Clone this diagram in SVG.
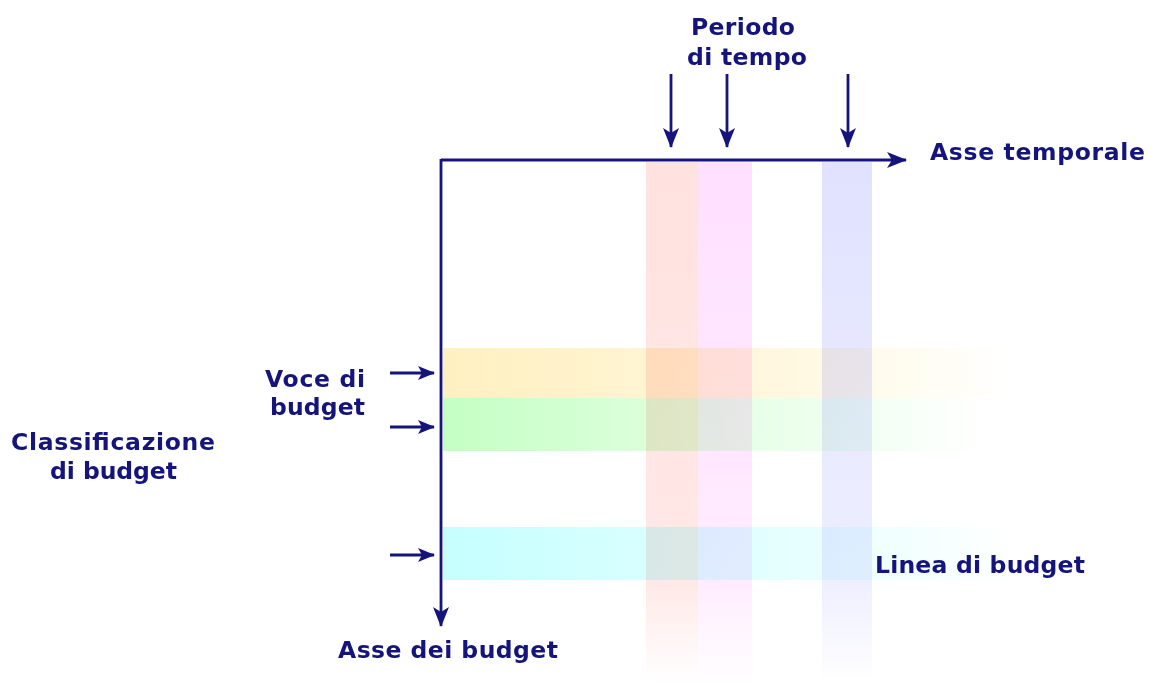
<svg xmlns="http://www.w3.org/2000/svg" width="1149" height="683" viewBox="0 0 1149 683">
<style>
.t{font-family:"DejaVu Sans","Liberation Sans",sans-serif;font-weight:bold;font-size:23.5px;fill:#14147c}
.ax{stroke:#14147c;stroke-width:2.8;fill:none}
.bl{mix-blend-mode:multiply}
</style>
<defs>
<marker id="ah" viewBox="0 0 20 16" refX="19" refY="8" markerWidth="20" markerHeight="16" orient="auto" markerUnits="userSpaceOnUse">
<path d="M0,0 L20,8 L0,16 L5,8 z" fill="#14147c"/>
</marker>
<marker id="ahs" viewBox="0 0 17 14" refX="16" refY="7" markerWidth="17" markerHeight="14" orient="auto" markerUnits="userSpaceOnUse">
<path d="M0,0 L17,7 L0,14 L4,7 z" fill="#14147c"/>
</marker>
<linearGradient id="gy" x1="0" x2="1" y1="0" y2="0"><stop offset="0" stop-color="#fff0c0"/><stop offset="0.55" stop-color="#fff7dc"/><stop offset="1" stop-color="#ffffff"/></linearGradient>
<linearGradient id="gg" x1="0" x2="1" y1="0" y2="0"><stop offset="0" stop-color="#c4ffc4"/><stop offset="0.55" stop-color="#e6ffe6"/><stop offset="1" stop-color="#ffffff"/></linearGradient>
<linearGradient id="gc" x1="0" x2="1" y1="0" y2="0"><stop offset="0" stop-color="#c6ffff"/><stop offset="0.55" stop-color="#e2ffff"/><stop offset="1" stop-color="#ffffff"/></linearGradient>
<linearGradient id="cp" x1="0" x2="0" y1="0" y2="1"><stop offset="0" stop-color="#ffe2e0"/><stop offset="0.8" stop-color="#ffe8e6"/><stop offset="1" stop-color="#ffffff"/></linearGradient>
<linearGradient id="cm" x1="0" x2="0" y1="0" y2="1"><stop offset="0" stop-color="#ffe0ff"/><stop offset="0.8" stop-color="#ffecff"/><stop offset="1" stop-color="#ffffff"/></linearGradient>
<linearGradient id="cb" x1="0" x2="0" y1="0" y2="1"><stop offset="0" stop-color="#e0e2ff"/><stop offset="0.8" stop-color="#eeeeff"/><stop offset="1" stop-color="#ffffff"/></linearGradient>
</defs>
<rect width="1149" height="683" fill="#ffffff"/>
<g id="bands">
<rect id="voce1" class="bl" x="443" y="348" width="570" height="50" fill="url(#gy)"/>
<rect id="voce2" class="bl" x="443" y="398" width="540" height="53" fill="url(#gg)"/>
<rect id="linea" class="bl" x="443" y="527" width="570" height="53" fill="url(#gc)"/>
<rect id="per1" class="bl" x="646" y="162" width="52" height="521" fill="url(#cp)"/>
<rect id="per2" class="bl" x="698" y="162" width="54" height="521" fill="url(#cm)"/>
<rect id="per3" class="bl" x="822" y="162" width="50" height="521" fill="url(#cb)"/>
</g>
<g id="connectors">
<line class="ax" x1="441" y1="160" x2="906" y2="160" marker-end="url(#ah)"/>
<line class="ax" x1="441" y1="159" x2="441" y2="626" marker-end="url(#ah)"/>
<line class="ax" x1="671" y1="74" x2="671" y2="147" marker-end="url(#ah)"/>
<line class="ax" x1="727" y1="74" x2="727" y2="147" marker-end="url(#ah)"/>
<line class="ax" x1="848" y1="74" x2="848" y2="147" marker-end="url(#ah)"/>
<line class="ax" x1="390" y1="373" x2="434" y2="373" marker-end="url(#ahs)"/>
<line class="ax" x1="390" y1="427" x2="434" y2="427" marker-end="url(#ahs)"/>
<line class="ax" x1="390" y1="555" x2="434" y2="555" marker-end="url(#ahs)"/>
</g>
<g id="periodo"><text class="t" x="691" y="35" textLength="104" lengthAdjust="spacing">Periodo</text><text class="t" x="687" y="65" textLength="120" lengthAdjust="spacing">di tempo</text></g>
<g id="asse-temporale"><text class="t" x="930" y="160" textLength="215" lengthAdjust="spacing">Asse temporale</text></g>
<g id="voce"><text class="t" x="265" y="387" textLength="100" lengthAdjust="spacing">Voce di</text><text class="t" x="270" y="415" textLength="95" lengthAdjust="spacing">budget</text></g>
<g id="classificazione"><text class="t" x="11" y="450" textLength="204" lengthAdjust="spacing">Classificazione</text><text class="t" x="50" y="479" textLength="127" lengthAdjust="spacing">di budget</text></g>
<g id="linea-label"><text class="t" x="875" y="573" textLength="210" lengthAdjust="spacing">Linea di budget</text></g>
<g id="asse-budget"><text class="t" x="338" y="658" textLength="220" lengthAdjust="spacing">Asse dei budget</text></g>
</svg>
